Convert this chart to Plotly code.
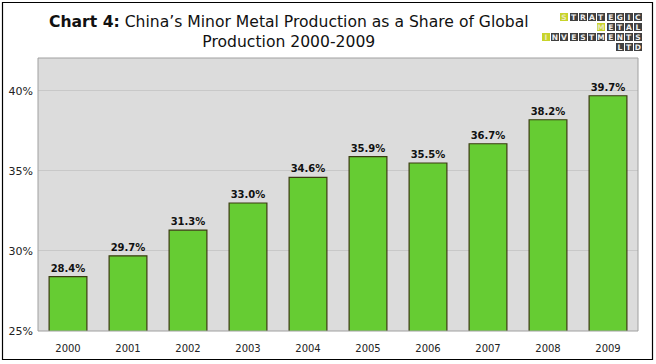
import plotly.graph_objects as go

years = ["2000", "2001", "2002", "2003", "2004", "2005", "2006", "2007", "2008", "2009"]
share = [28.4, 29.7, 31.3, 33.0, 34.6, 35.9, 35.5, 36.7, 38.2, 39.7]
y_ticks = [25, 30, 35, 40]
y_tick_labels = ["25%", "30%", "35%", "40%"]
title_line1_bold = "Chart 4:"
title_line1 = " China’s Minor Metal Production as a Share of Global"
title_line2 = "Production 2000-2009"
logo_rows = ["STRATEGIC", "METAL", "INVESTMENTS", "LTD"]
logo_highlight = [0, 0, 0, None]  # index of highlighted letter in each row

W, H = 656, 364
L, R, T, B = 38, 638, 58, 331

def px_x(px):
    return (px - L) / (R - L)

def px_y(py):
    return (B - py) / (B - T)

fig = go.Figure()
fig.add_trace(go.Bar(
    x=years, y=share,
    marker=dict(color="#66cc33", line=dict(color="#3a3a10", width=1.2)),
    text=[f"<b>{v:.1f}%</b>" for v in share],
    textposition="outside",
    textfont=dict(family="DejaVu Sans, Verdana", size=10, color="#111111"),
    cliponaxis=False,
    width=0.63,
    hoverinfo="skip",
))

annotations = [dict(
    text=f"<b>{title_line1_bold}</b>{title_line1}<br>{title_line2}",
    x=px_x(289), y=px_y(32), xref="paper", yref="paper",
    xanchor="center", yanchor="middle", showarrow=False,
    font=dict(family="DejaVu Sans, Verdana", size=15.6, color="#111111"),
    align="center",
)]

# logo grid: 11 columns, right aligned
ncol = 11
cell_w = 9.25
x_right = 643
y_top = 11.5
row_h = 10.2
for r, word in enumerate(logo_rows):
    start = ncol - len(word)
    for i, ch in enumerate(word):
        col = start + i
        cx = x_right - (ncol - col) * cell_w + cell_w / 2
        cy = y_top + r * row_h + row_h / 2
        hl = logo_highlight[r] is not None and i == logo_highlight[r]
        annotations.append(dict(
            text=f"<b>{ch}</b>", x=px_x(cx), y=px_y(cy),
            xref="paper", yref="paper", showarrow=False,
            xanchor="center", yanchor="middle",
            width=7.8, height=8.4, borderpad=0, borderwidth=0,
            bgcolor="#c8d42a" if hl else "#404040",
            font=dict(family="DejaVu Sans", size=7.5, color="#e8e8c0" if hl else "#f0f0f0"),
        ))

fig.update_layout(
    width=W, height=H,
    margin=dict(l=L, r=W - R, t=T, b=H - B, autoexpand=False),
    paper_bgcolor="white",
    plot_bgcolor="#dcdcdc",
    showlegend=False,
    bargap=0.37,
    annotations=annotations,
    shapes=[
        dict(type="rect", xref="paper", yref="paper",
             x0=px_x(2.5), x1=px_x(652.5), y0=px_y(359.5), y1=px_y(2.5),
             line=dict(color="black", width=1.2), layer="below"),
        dict(type="rect", xref="paper", yref="paper",
             x0=0, x1=1, y0=0, y1=1,
             line=dict(color="#a0a0a0", width=1), layer="above"),
    ],
    xaxis=dict(
        type="category", showgrid=False, showline=False, ticks="",
        tickfont=dict(family="DejaVu Sans, Verdana", size=10, color="#222222"),
        ticklabelstandoff=10,
    ),
    yaxis=dict(
        range=[25, 42.06], tickvals=y_ticks, ticktext=y_tick_labels,
        showgrid=True, gridcolor="#c8c8c8", gridwidth=1,
        showline=False, ticks="", zeroline=False,
        tickfont=dict(family="DejaVu Sans, Verdana", size=11, color="#222222"),
        ticklabelstandoff=4,
    ),
)

fig.write_html(
    "out.html",
    config={"displayModeBar": False, "staticPlot": True},
    post_script="document.body.style.margin='0';document.body.style.overflow='hidden';",
)
